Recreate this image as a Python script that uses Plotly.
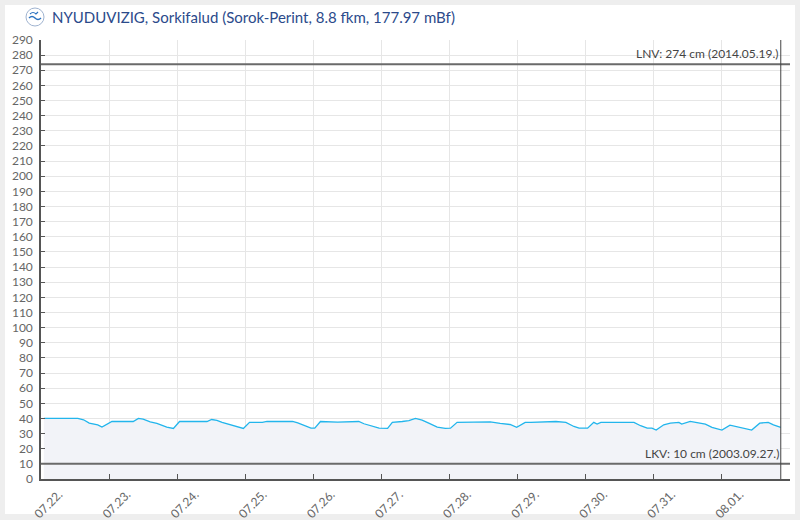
import plotly.graph_objects as go

# ---- data ----
title_text = "NYUDUVIZIG, Sorkifalud (Sorok-Perint, 8.8 fkm, 177.97 mBf)"
times = [
    "2024-07-22 01:00", "2024-07-22 11:00", "2024-07-22 13:00", "2024-07-22 15:00",
    "2024-07-22 17:00", "2024-07-22 20:00", "2024-07-22 21:30", "2024-07-23 01:00",
    "2024-07-23 08:30", "2024-07-23 10:20", "2024-07-23 12:00", "2024-07-23 14:30",
    "2024-07-23 16:50", "2024-07-23 20:20", "2024-07-23 22:40", "2024-07-24 00:50",
    "2024-07-24 10:30", "2024-07-24 12:10", "2024-07-24 14:00", "2024-07-24 15:50",
    "2024-07-24 18:40", "2024-07-24 22:10", "2024-07-24 23:20", "2024-07-25 01:30",
    "2024-07-25 06:00", "2024-07-25 07:40", "2024-07-25 12:40", "2024-07-25 16:40",
    "2024-07-25 18:30", "2024-07-25 21:20", "2024-07-25 23:10", "2024-07-26 00:30",
    "2024-07-26 02:30", "2024-07-26 08:30", "2024-07-26 12:00", "2024-07-26 16:00",
    "2024-07-26 17:50", "2024-07-26 20:50", "2024-07-26 23:10", "2024-07-27 02:10",
    "2024-07-27 03:50", "2024-07-27 07:20", "2024-07-27 09:40", "2024-07-27 12:00",
    "2024-07-27 14:20", "2024-07-27 16:40", "2024-07-27 19:40", "2024-07-27 22:30",
    "2024-07-28 00:20", "2024-07-28 02:40", "2024-07-28 10:50", "2024-07-28 14:20",
    "2024-07-28 17:50", "2024-07-28 21:20", "2024-07-28 23:40", "2024-07-29 02:40",
    "2024-07-29 04:40", "2024-07-29 12:50", "2024-07-29 13:30", "2024-07-29 17:00",
    "2024-07-29 19:50", "2024-07-29 21:40", "2024-07-30 00:40", "2024-07-30 02:50",
    "2024-07-30 04:00", "2024-07-30 05:20", "2024-07-30 17:00", "2024-07-30 19:20",
    "2024-07-30 21:40", "2024-07-30 23:20", "2024-07-31 00:50", "2024-07-31 03:30",
    "2024-07-31 05:50", "2024-07-31 08:50", "2024-07-31 09:50", "2024-07-31 12:50",
    "2024-07-31 15:50", "2024-07-31 18:10", "2024-07-31 20:30", "2024-08-01 00:00",
    "2024-08-01 02:50", "2024-08-01 05:20", "2024-08-01 08:10", "2024-08-01 10:30",
    "2024-08-01 13:20", "2024-08-01 16:20", "2024-08-01 18:10", "2024-08-01 20:45",
]
levels = [
    40.0, 39.6, 40.0, 39.1, 36.9, 35.8, 34.3, 38.0,
    38.0, 40.0, 39.6, 37.8, 36.7, 34.3, 33.4, 38.0,
    38.0, 39.3, 38.7, 37.4, 35.8, 33.6, 33.4, 37.4,
    37.4, 38.0, 38.0, 38.0, 37.0, 35.2, 33.6, 33.6,
    38.0, 37.6, 38.0, 38.0, 36.5, 34.7, 33.6, 33.4,
    37.4, 38.0, 38.5, 40.0, 38.9, 36.9, 34.3, 33.4,
    33.6, 37.4, 38.0, 37.8, 36.7, 36.0, 34.1, 37.4,
    37.4, 37.8, 38.0, 37.4, 34.7, 33.6, 33.6, 37.4,
    36.3, 37.4, 37.4, 35.2, 33.6, 33.6, 32.3, 35.8,
    36.9, 37.4, 36.3, 38.0, 36.9, 36.3, 34.1, 32.3,
    35.6, 34.5, 33.6, 32.3, 36.9, 37.4, 35.8, 34.1,
]
tick_dates = ["2024-07-22", "2024-07-23", "2024-07-24", "2024-07-25", "2024-07-26",
              "2024-07-27", "2024-07-28", "2024-07-29", "2024-07-30", "2024-07-31",
              "2024-08-01"]
tick_labels = ["07.22.", "07.23.", "07.24.", "07.25.", "07.26.", "07.27.",
               "07.28.", "07.29.", "07.30.", "07.31.", "08.01."]
x_start = "2024-07-22 00:00"
x_end = "2024-08-02 00:00"
now_time = "2024-08-01 20:45"
lnv_value = 274
lnv_label = "LNV: 274 cm (2014.05.19.)"
lkv_value = 10
lkv_label = "LKV: 10 cm (2003.09.27.)"
y_ticks = list(range(0, 291, 10))

FONT = "Lato"
fig = go.Figure()
fig.add_trace(go.Scatter(
    x=times, y=levels, mode="lines",
    line=dict(color="#22b5ec", width=1.3),
    fill="tozeroy", fillcolor="#f2f3f8",
    hoverinfo="skip", showlegend=False,
))

shapes = [
    # white panel
    dict(type="rect", xref="paper", yref="paper",
         x0=(5 - 41) / 749, x1=(795 - 41) / 749,
         y0=(479 - 514) / 439, y1=(479 - 5) / 439,
         fillcolor="white", line=dict(width=0), layer="below"),
    # LNV line
    dict(type="line", xref="paper", yref="y", x0=0, x1=1, y0=lnv_value, y1=lnv_value,
         line=dict(color="#6a6a6a", width=2)),
    # LKV line
    dict(type="line", xref="paper", yref="y", x0=0, x1=1, y0=lkv_value, y1=lkv_value,
         line=dict(color="#6a6a6a", width=2)),
    # now line
    dict(type="line", xref="x", yref="paper", x0=now_time, x1=now_time, y0=0, y1=1,
         line=dict(color="#444444", width=1)),
    # logo circle
    dict(type="circle", xref="paper", yref="paper", xsizemode="pixel", ysizemode="pixel",
         xanchor=0, yanchor=1, x0=-15, x1=3, y0=14, y1=32,
         fillcolor="white", line=dict(color="#9fb3d0", width=1)),
    dict(type="path", xref="paper", yref="paper", xsizemode="pixel", ysizemode="pixel",
         xanchor=0, yanchor=1,
         path="M -12 22 Q -9 25 -6 22 Q -3 19 0 22",
         line=dict(color="#2a72c0", width=1.5)),
    dict(type="path", xref="paper", yref="paper", xsizemode="pixel", ysizemode="pixel",
         xanchor=0, yanchor=1,
         path="M -11 26 Q -8 29 -5 26 L -3 28",
         line=dict(color="#2a72c0", width=1.2)),
]

annotations = [
    dict(text=title_text, xref="paper", yref="paper", x=(50 - 41) / 749, y=(479 - 17) / 439,
         xanchor="left", yanchor="middle", showarrow=False,
         font=dict(family=FONT, size=15, color="#2b4a8b")),
    dict(text=lnv_label, xref="x", yref="y", x=now_time, y=lnv_value,
         xanchor="right", yanchor="bottom", yshift=1, showarrow=False,
         font=dict(family=FONT, size=12, color="#444444")),
    dict(text=lkv_label, xref="x", yref="y", x=now_time, y=lkv_value,
         xanchor="right", yanchor="bottom", yshift=1, showarrow=False,
         font=dict(family=FONT, size=12, color="#444444")),
]

fig.update_layout(
    width=800, height=520,
    margin=dict(l=41, r=10, t=40, b=41, autoexpand=False),
    paper_bgcolor="#eeeeee", plot_bgcolor="white",
    font=dict(family=FONT, size=12, color="#666666"),
    shapes=shapes, annotations=annotations,
    showlegend=False,
)
fig.update_xaxes(
    type="date", range=[x_start, x_end],
    tickvals=tick_dates, ticktext=tick_labels, tickangle=-45,
    tickfont=dict(family=FONT, size=12, color="#666666"),
    ticks="inside", ticklen=5, tickcolor="#555555",
    showgrid=True, gridcolor="#e6e6e6", gridwidth=1,
    showline=True, linecolor="#555555", linewidth=1.5,
    ticklabelshift=18, ticklabelstandoff=2, automargin=False,
    zeroline=False, fixedrange=True,
)
fig.update_yaxes(
    range=[0, 290], tickvals=y_ticks,
    tickfont=dict(family=FONT, size=12, color="#666666"),
    ticks="inside", ticklen=4, tickcolor="#555555",
    showgrid=True, gridcolor="#e6e6e6", gridwidth=1,
    showline=True, linecolor="#555555", linewidth=1.5,
    ticklabelstandoff=4, automargin=False,
    zeroline=False, fixedrange=True,
)

fig.write_html(
    "out.html",
    config={"displayModeBar": False},
    post_script="document.body.style.margin='0';document.body.style.overflow='hidden';",
)
